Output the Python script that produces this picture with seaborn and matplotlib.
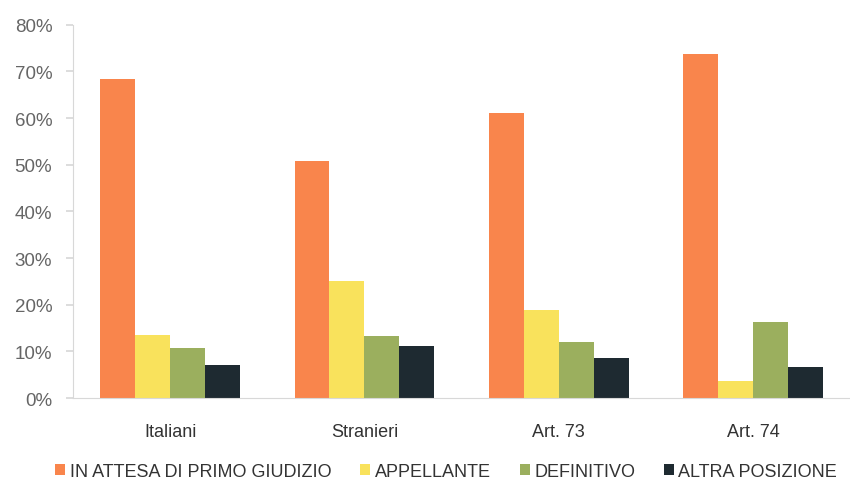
import matplotlib
matplotlib.use("Agg")
import matplotlib.pyplot as plt
import seaborn as sns
import pandas as pd
from matplotlib.ticker import FuncFormatter

categories = ["Italiani", "Stranieri", "Art. 73", "Art. 74"]
series = ["IN ATTESA DI PRIMO GIUDIZIO", "APPELLANTE", "DEFINITIVO", "ALTRA POSIZIONE"]
in_attesa = [68.4, 50.9, 61.0, 73.7]
appellante = [13.6, 25.0, 18.9, 3.7]
definitivo = [10.7, 13.4, 12.0, 16.4]
altra = [7.1, 11.2, 8.7, 6.6]
colors = ["#F9854C", "#F9E25C", "#9BAF5E", "#1E2A31"]

rows = []
for name, vals in zip(series, [in_attesa, appellante, definitivo, altra]):
    for cat, v in zip(categories, vals):
        rows.append({"categoria": cat, "posizione": name, "valore": v})
df = pd.DataFrame(rows)

sns.set_theme(style="white")
plt.rcParams["font.family"] = ["Liberation Sans", "DejaVu Sans"]

fig = plt.figure(figsize=(8.5, 4.85), dpi=100)
ax = fig.add_axes([0.086, 0.177, 0.914, 0.77])

sns.barplot(data=df, x="categoria", y="valore", hue="posizione",
            order=categories, hue_order=series, palette=colors,
            width=0.72, gap=0, saturation=1, edgecolor="none",
            linewidth=0, ax=ax, legend=True)

ax.set_ylim(0, 80)
ax.set_yticks(range(0, 81, 10))
ax.yaxis.set_major_formatter(FuncFormatter(lambda v, p: f"{int(v)}%"))
ax.set_xlim(-0.5, 3.5)
ax.set_xlabel("")
ax.set_ylabel("")

for s in ["top", "right"]:
    ax.spines[s].set_visible(False)
for s in ["left", "bottom"]:
    ax.spines[s].set_color("#d8d8d8")
    ax.spines[s].set_linewidth(0.8)

ax.tick_params(axis="y", left=True, length=5, color="#d8d8d8",
               labelsize=13.5, labelcolor="#666666", pad=10)
ax.tick_params(axis="x", bottom=False, labelsize=13, labelcolor="#333333", pad=12)

handles, labels = ax.get_legend_handles_labels()
ax.get_legend().remove()
fig.legend(handles, labels, loc="lower center", bbox_to_anchor=(0.525, -0.025),
           ncol=4, frameon=False, fontsize=13, handlelength=0.55,
           handleheight=0.55, handletextpad=0.25, columnspacing=1.6,
           labelcolor="#333333")

fig.savefig("out.png", dpi=100)
